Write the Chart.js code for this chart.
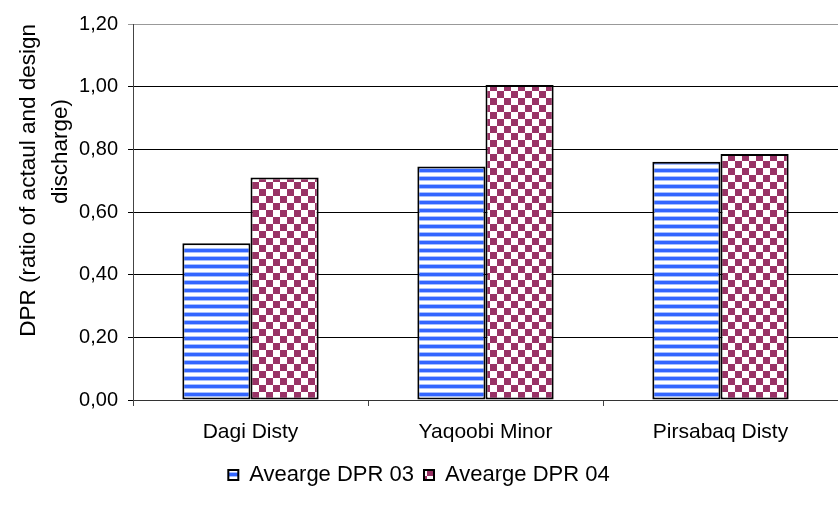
<!DOCTYPE html>
<html>
<head>
<meta charset="utf-8">
<script src="https://cdn.jsdelivr.net/npm/chart.js@4/dist/chart.umd.min.js"></script>
<style>
  html, body { margin: 0; padding: 0; background: #fff; }
  #wrap { width: 838px; height: 511px; }
</style>
</head>
<body>
<div id="wrap"><canvas id="dprChart"></canvas></div>
<script>
// data
const categories = ['Dagi Disty', 'Yaqoobi Minor', 'Pirsabaq Disty'];
const dpr03 = [0.50, 0.745, 0.76];
const dpr04 = [0.71, 1.005, 0.785];
const seriesNames = ['Avearge DPR 03', 'Avearge DPR 04'];
const yTicks = [0, 0.2, 0.4, 0.6, 0.8, 1.0, 1.2];

const ctx = document.getElementById('dprChart').getContext('2d');
const FONT = 'Liberation Sans, Arial, sans-serif';

// horizontal blue stripes
function stripePattern() {
  const c = document.createElement('canvas');
  c.width = 8; c.height = 8;
  const g = c.getContext('2d');
  g.fillStyle = '#ffffff';
  g.fillRect(0, 0, 8, 8);
  g.fillStyle = '#a9c0ff';
  g.fillRect(0, 0, 8, 1);
  g.fillRect(0, 4, 8, 1);
  g.fillStyle = '#3366ff';
  g.fillRect(0, 1, 8, 3);
  return ctx.createPattern(c, 'repeat');
}

// checkerboard in plum
function checkerPattern() {
  const s = 7;
  const c = document.createElement('canvas');
  c.width = s * 2; c.height = s * 2;
  const g = c.getContext('2d');
  g.fillStyle = '#ffffff';
  g.fillRect(0, 0, s * 2, s * 2);
  g.fillStyle = '#993366';
  g.fillRect(0, 0, s, s);
  g.fillRect(s, s, s, s);
  return ctx.createPattern(c, 'repeat');
}

const chart = new Chart(ctx, {
  type: 'bar',
  data: {
    labels: categories,
    datasets: [
      {
        label: seriesNames[0],
        data: dpr03,
        backgroundColor: stripePattern(),
        borderColor: '#000',
        borderWidth: 2,
        borderSkipped: false
      },
      {
        label: seriesNames[1],
        data: dpr04,
        backgroundColor: checkerPattern(),
        borderColor: '#000',
        borderWidth: 2,
        borderSkipped: false
      }
    ]
  },
  options: {
    responsive: true,
    maintainAspectRatio: false,
    animation: false,
    datasets: { bar: { categoryPercentage: 0.58, barPercentage: 1.0 } },
    layout: { padding: { top: 24, right: 0, bottom: 15, left: 0 } },
    scales: {
      x: {
        grid: { display: true, drawOnChartArea: false, tickLength: 6, color: '#444' },
        border: { color: '#333', width: 1 },
        ticks: { color: '#000', font: { family: FONT, size: 21 }, padding: 14 },
        afterFit: (s) => { s.height = 54; }
      },
      y: {
        min: 0,
        max: 1.2,
        afterBuildTicks: (s) => { s.ticks = yTicks.map(v => ({ value: v })); },
        grid: { color: (c) => (c.tick && c.tick.value === 1.2) ? '#999' : '#000', lineWidth: 1, tickLength: 5 },
        border: { color: '#444', width: 1 },
        ticks: {
          color: '#000',
          padding: 10,
          font: { family: FONT, size: 20 },
          callback: (v) => v.toFixed(2).replace('.', ',')
        },
        title: {
          display: true,
          align: 'end',
          text: ['DPR (ratio of actaul and design', 'discharge)            '],
          color: '#000',
          font: { family: FONT, size: 22.5, lineHeight: 1.45 },
          padding: { top: 12, bottom: 0 }
        },
        afterFit: (s) => { s.width = 133; }
      }
    },
    plugins: {
      legend: {
        position: 'bottom',
        labels: {
          color: '#000',
          boxWidth: 10,
          boxHeight: 10,
          padding: 10,
          font: { family: FONT, size: 22 }
        }
      },
      tooltip: { enabled: false }
    }
  }
});
</script>
</body>
</html>
